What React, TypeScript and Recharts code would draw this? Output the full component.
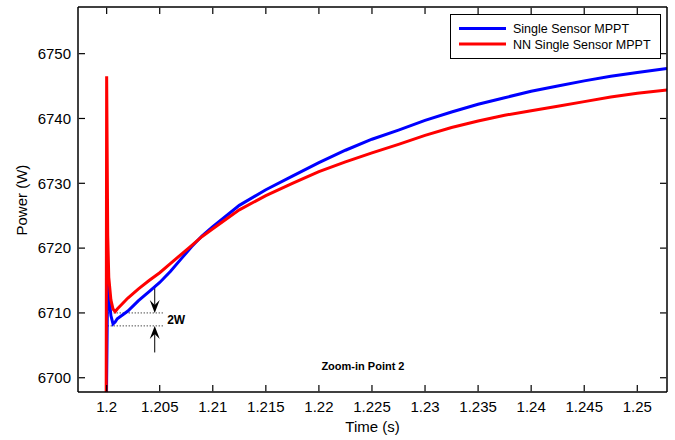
import { LineChart, Line, XAxis, YAxis, Legend, ReferenceLine, ReferenceDot } from 'recharts'

// time (s)
const time = [
  1.19995, 1.2, 1.2001, 1.2002, 1.2004, 1.2006, 1.2008, 1.201, 1.202, 1.203, 1.204, 1.205,
  1.206, 1.207, 1.208, 1.209, 1.21, 1.2125, 1.215, 1.2175, 1.22, 1.2225, 1.225, 1.2275,
  1.23, 1.2325, 1.235, 1.2375, 1.24, 1.2425, 1.245, 1.2475, 1.25, 1.2528,
]

// power (W), single sensor MPPT
const singleSensor = [
  6690, 6700, 6715.5, 6713.0, 6709.6, 6708.3, 6708.6, 6709.1, 6710.3, 6711.9, 6713.3, 6714.7,
  6716.4, 6718.3, 6720.2, 6721.9, 6723.3, 6726.6, 6729.0, 6731.1, 6733.2, 6735.1, 6736.8, 6738.2,
  6739.7, 6741.0, 6742.2, 6743.2, 6744.2, 6745.0, 6745.8, 6746.5, 6747.1, 6747.7,
]

// power (W), NN single sensor MPPT
const nnSingleSensor = [
  6690, 6746.5, 6722, 6715.5, 6712.0, 6710.6, 6710.2, 6710.6, 6712.3, 6713.7, 6715.0, 6716.2,
  6717.6, 6719.0, 6720.4, 6721.8, 6723.0, 6725.9, 6728.1, 6730.0, 6731.8, 6733.3, 6734.7, 6736.0,
  6737.4, 6738.6, 6739.6, 6740.5, 6741.2, 6741.9, 6742.6, 6743.3, 6743.9, 6744.4,
]

const seriesNames = ['Single Sensor MPPT', 'NN Single Sensor MPPT']
const xTicks = [1.2, 1.205, 1.21, 1.215, 1.22, 1.225, 1.23, 1.235, 1.24, 1.245, 1.25]
const yTicks = [6700, 6710, 6720, 6730, 6740, 6750]

const data = time.map((t, i) => ({ t, single: singleSensor[i], nn: nnSingleSensor[i] }))

const FONT = '"Liberation Sans", Arial, sans-serif'
const X_DOMAIN = [1.1973, 1.2528]
const Y_DOMAIN = [6697.8, 6757.2]
const frame = { stroke: '#000', strokeWidth: 1.5 }
const TICK = 7

function BottomTick({ x, y, payload }: any) {
  return (
    <g>
      <path d={`M${x},${y - 0.75}V${y - TICK}`} stroke="#000" strokeWidth={1.2} fill="none" />
      <text x={x} y={y + 19.5} textAnchor="middle" fontSize={15} fill="#000" fontFamily={FONT}>
        {payload.value}
      </text>
    </g>
  )
}

function LeftTick({ x, y, payload }: any) {
  return (
    <g>
      <path d={`M${x + 0.75},${y}H${x + TICK}`} stroke="#000" strokeWidth={1.2} fill="none" />
      <text x={x - 7} y={y + 5.3} textAnchor="end" fontSize={15} fill="#000" fontFamily={FONT}>
        {payload.value}
      </text>
    </g>
  )
}

function TopTick({ x, y }: any) {
  return <path d={`M${x},${y + 0.75}V${y + TICK}`} stroke="#000" strokeWidth={1.2} fill="none" />
}

function RightTick({ x, y }: any) {
  return <path d={`M${x - 0.75},${y}H${x - TICK}`} stroke="#000" strokeWidth={1.2} fill="none" />
}

// shaft + notched head pointing at (x2, y2)
function Arrow({ x1, y1, x2, y2 }: any) {
  const dir = y2 > y1 ? 1 : -1
  const head = `${x2},${y2} ${x2 - 5},${y2 - dir * 13} ${x2},${y2 - dir * 8} ${x2 + 5},${y2 - dir * 13}`
  return (
    <g>
      <line x1={x1} y1={y1} x2={x2} y2={y2 - dir * 8} stroke="#000" strokeWidth={1} />
      <polygon points={head} fill="#000" />
    </g>
  )
}

function LegendBox({ payload }: any) {
  const items = [...(payload || [])].sort(
    (a: any, b: any) => seriesNames.indexOf(a.value) - seriesNames.indexOf(b.value),
  )
  return (
    <svg width={211} height={45} style={{ display: 'block' }}>
      <rect x={0.5} y={0.5} width={210} height={44} fill="#fff" stroke="#000" />
      {items.map((p: any, i: number) => (
        <g key={p.value}>
          <line x1={9} x2={56} y1={14.5 + i * 15.5} y2={14.5 + i * 15.5} stroke={p.color} strokeWidth={3} />
          <text x={63} y={19 + i * 15.5} fontSize={12.5} fill="#000" fontFamily={FONT}>
            {p.value}
          </text>
        </g>
      ))}
    </svg>
  )
}

export default function App() {
  return (
    <div style={{ position: 'absolute', left: 0, top: 0, width: 675, height: 440, background: '#fff' }}>
      <LineChart width={675} height={440} data={data} margin={{ top: 6, right: 7, left: 8, bottom: 0 }}>
        <XAxis
          dataKey="t"
          type="number"
          domain={X_DOMAIN}
          ticks={xTicks}
          allowDataOverflow
          height={48}
          tickSize={0}
          tickMargin={0}
          tickLine={false}
          tick={<BottomTick />}
          axisLine={frame}
          interval={0}
          label={{ value: 'Time (s)', position: 'insideBottom', offset: 8, fill: '#000', fontSize: 15, fontFamily: FONT }}
        />
        <XAxis
          xAxisId="top"
          orientation="top"
          dataKey="t"
          type="number"
          domain={X_DOMAIN}
          ticks={xTicks}
          allowDataOverflow
          height={1}
          tickSize={0}
          tickMargin={0}
          tickLine={false}
          tick={<TopTick />}
          axisLine={frame}
          interval={0}
        />
        <YAxis
          type="number"
          domain={Y_DOMAIN}
          ticks={yTicks}
          allowDataOverflow
          width={70}
          tickSize={0}
          tickMargin={0}
          tickLine={false}
          tick={<LeftTick />}
          axisLine={frame}
          interval={0}
          label={{ value: 'Power (W)', angle: -90, position: 'insideLeft', offset: 13.5, dy: 36, fill: '#000', fontSize: 15, fontFamily: FONT }}
        />
        <YAxis
          yAxisId="right"
          orientation="right"
          type="number"
          domain={Y_DOMAIN}
          ticks={yTicks}
          allowDataOverflow
          width={1}
          tickSize={0}
          tickMargin={0}
          tickLine={false}
          tick={<RightTick />}
          axisLine={frame}
          interval={0}
        />
        <Legend
          layout="vertical"
          align="center"
          verticalAlign="middle"
          content={<LegendBox />}
          wrapperStyle={{ left: 450, top: 14, width: 211, height: 45 }}
        />
        <ReferenceLine
          segment={[{ x: 1.2001, y: 6710 }, { x: 1.2053, y: 6710 }]}
          stroke="#000"
          strokeDasharray="1 2"
        />
        <ReferenceLine
          segment={[{ x: 1.2001, y: 6708 }, { x: 1.2053, y: 6708 }]}
          stroke="#000"
          strokeDasharray="1 2"
        />
        <ReferenceLine segment={[{ x: 1.20453, y: 6714.2 }, { x: 1.20453, y: 6710 }]} shape={<Arrow />} />
        <ReferenceLine segment={[{ x: 1.20453, y: 6703.9 }, { x: 1.20453, y: 6708 }]} shape={<Arrow />} />
        <ReferenceDot
          x={1.2057}
          y={6709}
          r={0}
          shape={(p: any) => (
            <text x={p.cx} y={p.cy + 4.5} fontSize={12} fontWeight="bold" fill="#000" fontFamily={FONT}>
              2W
            </text>
          )}
        />
        <ReferenceDot
          x={1.22415}
          y={6701.85}
          r={0}
          shape={(p: any) => (
            <text x={p.cx} y={p.cy + 4} textAnchor="middle" fontSize={11} fontWeight="bold" fill="#000" fontFamily={FONT}>
              Zoom-in Point 2
            </text>
          )}
        />
        <Line
          name={seriesNames[0]}
          dataKey="single"
          stroke="#0000ff"
          strokeWidth={3}
          dot={false}
          type="linear"
          isAnimationActive={false}
        />
        <Line
          name={seriesNames[1]}
          dataKey="nn"
          stroke="#ff0000"
          strokeWidth={3}
          dot={false}
          type="linear"
          isAnimationActive={false}
        />
      </LineChart>
    </div>
  )
}
